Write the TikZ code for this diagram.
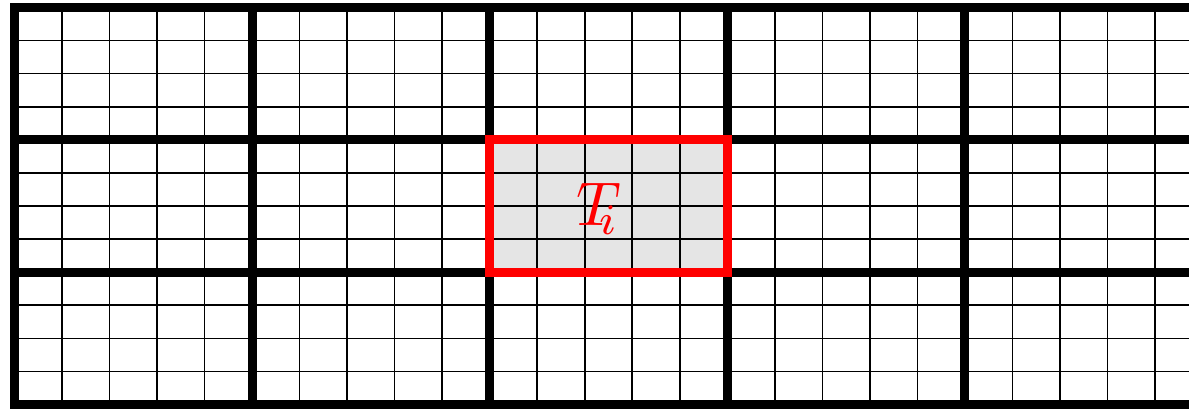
\documentclass[tikz,border=0pt]{standalone}
\begin{document}
\begin{tikzpicture}[x=0.025cm,y=-0.025cm]
    \tikzset{
        thin line/.style={line width=1.1pt},
        thick line/.style={line width=6.4pt, line cap=rect},
        tile/.style={draw=red, fill=gray!20, line width=6.4pt}
    }
    \useasboundingbox (0,0) rectangle (1189,408);
    \clip (0,0) rectangle (1189,408);

    % the one tile that is marked
    \filldraw[tile] (489.5,139.8) rectangle (727.1,272.1);

    % fine grid
    \foreach \x in {0,...,25}{
        \draw[thin line] (14.5+\x*47.52,7.5) -- (14.5+\x*47.52,404.5);
    }
    \foreach \y in {0,...,12}{
        \draw[thin line] (14.5,7.5+\y*33.08) -- (1202.5,7.5+\y*33.08);
    }

    % tile borders
    \foreach \x in {0,...,5}{
        \draw[thick line] (14.5+\x*237.6,7.5) -- (14.5+\x*237.6,404.5);
    }
    \foreach \y in {0,...,3}{
        \draw[thick line] (14.5,7.5+\y*132.33) -- (1202.5,7.5+\y*132.33);
    }
    \draw[tile, fill=none] (489.5,139.8) rectangle (727.1,272.1);

    \node[text=red, scale=4.4] (Ti) at (598,209) {$T_{\mkern-5mu i}$};
\end{tikzpicture}
\end{document}
